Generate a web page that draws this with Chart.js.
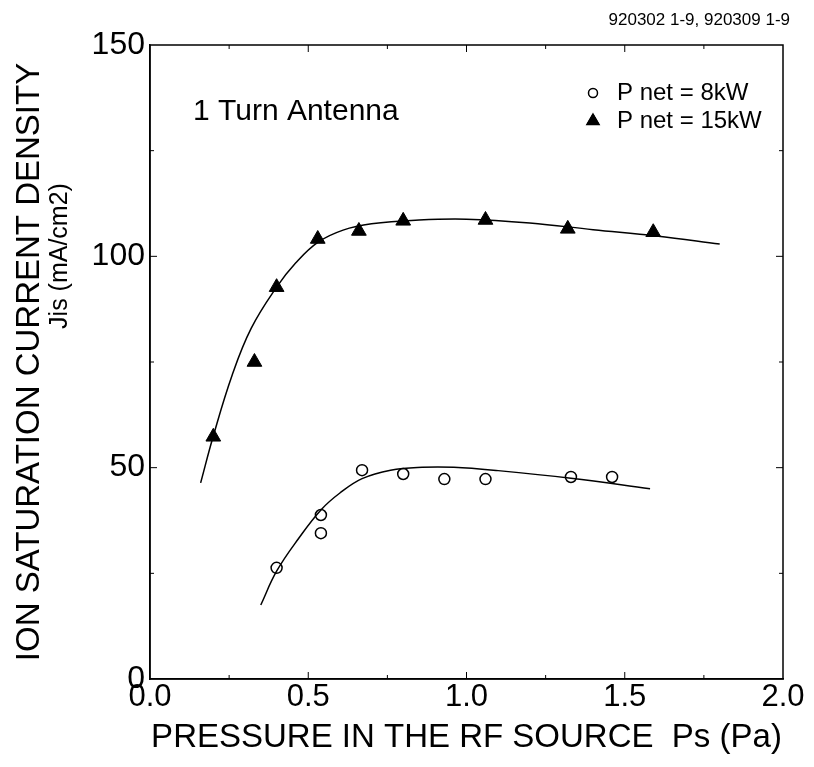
<!DOCTYPE html>
<html lang="en">
<head>
    <meta charset="UTF-8">
    <title>Ion saturation current density vs pressure</title>
    <script src="https://cdn.jsdelivr.net/npm/chart.js"></script>
    <style>
        body { margin: 0; background: #fff; }
        #wrap { width: 814px; height: 767px; }
    </style>
</head>
<body>
    <div id="wrap">
        <canvas id="myChart" width="814" height="767"></canvas>
    </div>

    <script>
        // datos
        const xTickLabels = ['0.0', '0.5', '1.0', '1.5', '2.0'];
        const yTickLabels = ['0', '50', '100', '150'];

        // P net = 8kW (circulos)
        const p8Pressure = [0.40, 0.54, 0.54, 0.67, 0.80, 0.93, 1.06, 1.33, 1.46];
        const p8Jis = [26.3, 38.8, 34.5, 49.4, 48.5, 47.3, 47.3, 47.8, 47.8];

        // P net = 15kW (triangulos)
        const p15Pressure = [0.20, 0.33, 0.40, 0.53, 0.66, 0.80, 1.06, 1.32, 1.59];
        const p15Jis = [57.3, 75.0, 92.7, 104.1, 106.0, 108.4, 108.6, 106.5, 105.7];

        // curvas de ajuste dibujadas a mano en el original
        const fit8Pressure = [0.35, 0.40, 0.47, 0.54, 0.60, 0.67, 0.76, 0.86, 0.96, 1.10, 1.33, 1.58];
        const fit8Jis = [17.5, 25.5, 33.3, 40.0, 44.0, 47.4, 49.4, 50.1, 50.1, 49.3, 47.5, 45.0];
        const fit15Pressure = [0.16, 0.20, 0.26, 0.32, 0.40, 0.46, 0.53, 0.61, 0.70, 0.85, 1.00, 1.20, 1.40, 1.60, 1.80];
        const fit15Jis = [46.4, 57.5, 72.0, 83.0, 92.7, 98.4, 103.3, 106.2, 107.7, 108.6, 108.8, 107.9, 106.3, 104.8, 102.9];

        const FONT = '"Liberation Sans", Arial, Helvetica, sans-serif';

        function toPoints(xs, ys) {
            return xs.map((x, i) => ({ x: x, y: ys[i] }));
        }

        // marco, marcas hacia dentro, textos y leyenda
        const decoraciones = {
            id: 'decoraciones',
            afterDraw(chart) {
                const ctx = chart.ctx;
                const a = chart.chartArea;
                const xs = chart.scales.x;
                const ys = chart.scales.y;
                ctx.save();
                ctx.strokeStyle = '#000';
                ctx.lineWidth = 1.5;
                ctx.strokeRect(a.left, a.top, a.right - a.left, a.bottom - a.top);

                ctx.lineWidth = 1;
                for (let v = 0.25; v < 2; v += 0.25) {
                    const px = xs.getPixelForValue(v);
                    const len = (Math.abs(v * 2 - Math.round(v * 2)) < 1e-6) ? 7 : 4;
                    ctx.beginPath();
                    ctx.moveTo(px, a.bottom); ctx.lineTo(px, a.bottom - len);
                    ctx.moveTo(px, a.top); ctx.lineTo(px, a.top + len);
                    ctx.stroke();
                }
                for (let v = 25; v < 150; v += 25) {
                    const py = ys.getPixelForValue(v);
                    const len = (v % 50 === 0) ? 7 : 4;
                    ctx.beginPath();
                    ctx.moveTo(a.left, py); ctx.lineTo(a.left + len, py);
                    ctx.moveTo(a.right, py); ctx.lineTo(a.right - len, py);
                    ctx.stroke();
                }

                ctx.fillStyle = '#000';
                // segunda linea del titulo del eje y
                ctx.save();
                ctx.translate(60, 256);
                ctx.rotate(-Math.PI / 2);
                ctx.font = '25px ' + FONT;
                ctx.textAlign = 'center';
                ctx.textBaseline = 'middle';
                ctx.fillText('Jis (mA/cm2)', 0, 0);
                ctx.restore();

                ctx.textBaseline = 'middle';
                ctx.textAlign = 'left';
                ctx.font = '30px ' + FONT;
                ctx.fillText('1 Turn Antenna', 193, 112);

                ctx.textAlign = 'right';
                ctx.font = '17px ' + FONT;
                ctx.fillText('920302 1-9, 920309 1-9', 790, 20);

                // leyenda
                ctx.textAlign = 'left';
                ctx.font = '24px ' + FONT;
                const items = [chart.data.datasets[2], chart.data.datasets[3]];
                const rows = [93, 121];
                items.forEach((ds, i) => {
                    Chart.helpers.drawPoint(ctx, {
                        pointStyle: ds.pointStyle,
                        radius: ds.pointStyle === 'circle' ? 4.5 : 7,
                        borderWidth: ds.pointBorderWidth
                    }, 593, rows[i]);
                    ctx.fillStyle = ds.pointBackgroundColor;
                    ctx.strokeStyle = '#000';
                    ctx.lineWidth = ds.pointBorderWidth;
                    ctx.fill();
                    ctx.stroke();
                    ctx.fillStyle = '#000';
                    ctx.fillText(ds.label, 617, rows[i]);
                });
                ctx.restore();
            }
        };

        const ctx = document.getElementById('myChart').getContext('2d');
        const myChart = new Chart(ctx, {
            type: 'scatter',
            data: {
                datasets: [
                    {
                        label: 'fit 8kW',
                        data: toPoints(fit8Pressure, fit8Jis),
                        showLine: true,
                        borderColor: '#000',
                        borderWidth: 1.5,
                        pointRadius: 0,
                        tension: 0.4
                    },
                    {
                        label: 'fit 15kW',
                        data: toPoints(fit15Pressure, fit15Jis),
                        showLine: true,
                        borderColor: '#000',
                        borderWidth: 1.5,
                        pointRadius: 0,
                        tension: 0.4
                    },
                    {
                        label: 'P net = 8kW',
                        data: toPoints(p8Pressure, p8Jis),
                        pointStyle: 'circle',
                        pointRadius: 5.5,
                        pointBorderWidth: 1.5,
                        pointBorderColor: '#000',
                        pointBackgroundColor: '#fff'
                    },
                    {
                        label: 'P net = 15kW',
                        data: toPoints(p15Pressure, p15Jis),
                        pointStyle: 'triangle',
                        pointRadius: 8.5,
                        pointBorderWidth: 1,
                        pointBorderColor: '#000',
                        pointBackgroundColor: '#000'
                    }
                ]
            },
            options: {
                responsive: false,
                animation: false,
                layout: { padding: { top: 45, right: 31, left: 0, bottom: 0 } },
                plugins: {
                    legend: { display: false },
                    tooltip: { enabled: false }
                },
                scales: {
                    x: {
                        type: 'linear',
                        min: 0,
                        max: 2,
                        afterFit: (scale) => { scale.height = 88; },
                        afterBuildTicks: (scale) => {
                            scale.ticks = xTickLabels.map(t => ({ value: parseFloat(t) }));
                        },
                        ticks: {
                            color: '#000',
                            font: { family: FONT, size: 31 },
                            padding: 0,
                            maxRotation: 0,
                            callback: (v, i) => xTickLabels[i]
                        },
                        grid: { display: false, drawTicks: false },
                        border: { display: true, color: '#000', width: 1.5 },
                        title: {
                            display: true,
                            text: 'PRESSURE IN THE RF SOURCE  Ps (Pa)',
                            color: '#000',
                            font: { family: FONT, size: 33 },
                            padding: { top: 0, bottom: 9 }
                        }
                    },
                    y: {
                        min: 0,
                        max: 150,
                        afterFit: (scale) => { scale.width = 150; },
                        afterBuildTicks: (scale) => {
                            scale.ticks = yTickLabels.map(t => ({ value: parseFloat(t) }));
                        },
                        ticks: {
                            color: '#000',
                            font: { family: FONT, size: 32 },
                            padding: 5,
                            callback: (v, i) => yTickLabels[i]
                        },
                        grid: { display: false, drawTicks: false },
                        border: { display: true, color: '#000', width: 1.5 },
                        title: {
                            display: true,
                            text: 'ION SATURATION CURRENT DENSITY',
                            color: '#000',
                            font: { family: FONT, size: 33 },
                            padding: { top: 10, bottom: 0 }
                        }
                    }
                }
            },
            plugins: [decoraciones]
        });
    </script>
</body>
</html>
